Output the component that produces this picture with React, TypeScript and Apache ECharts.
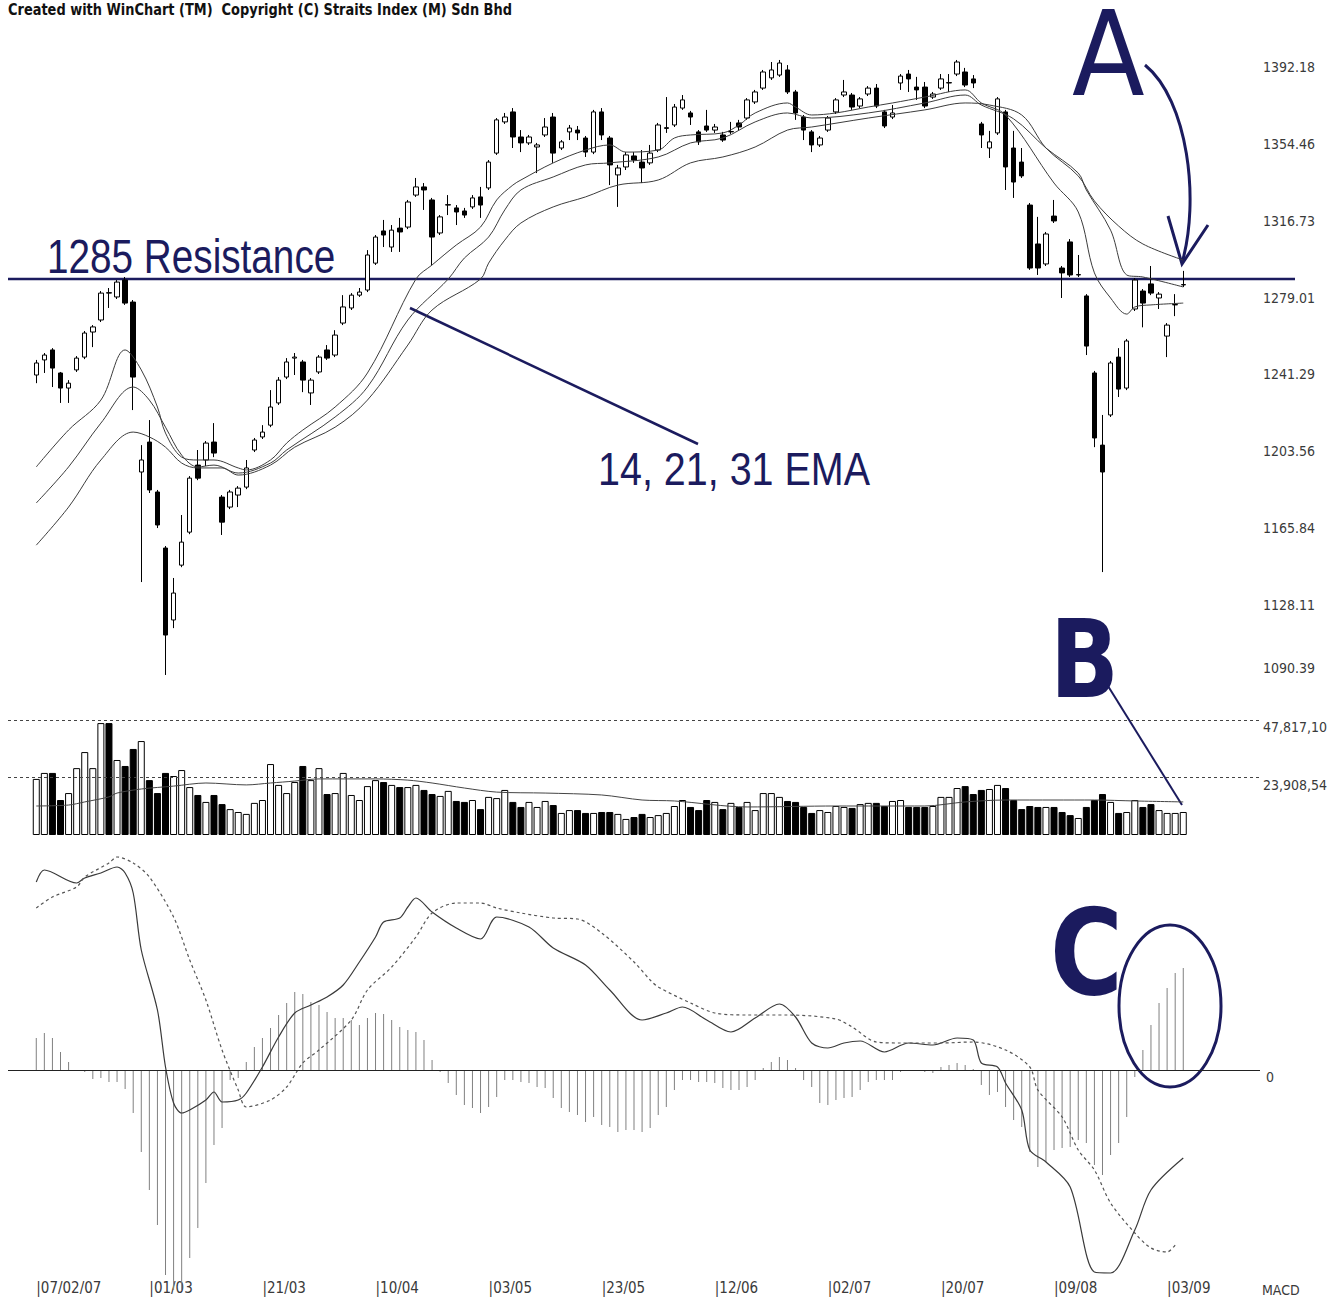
import React, { useEffect, useRef } from "react";
import * as echarts from "echarts";

const FONT = '"DejaVu Sans Condensed", "Liberation Sans Narrow", sans-serif';
const ARIAL = '"Liberation Sans", Arial, sans-serif';
const NAVY = "#1b1b5e";
const PAD = 3;
const NCAT = 155;
const LABEL_EVERY = 14;

const xTickLabels = ["07/02/07", "01/03", "21/03", "10/04", "03/05", "23/05", "12/06", "02/07", "20/07", "09/08", "03/09"];
const priceTicks = [1128.11, 1165.84, 1203.56, 1241.29, 1279.01, 1316.73, 1354.46, 1392.18];
const priceBottomTick = [1090.39];
const volumeTickValues = [23908.54, 47817.1];
const volumeTickLabels = ["23,908,54", "47,817,10"];
const macdTickValues = [0];

// [open, close, low, high]
const candles: number[][] = [
  [1237.6, 1243.5, 1233.6, 1245.0], [1245.0, 1247.4, 1238.6, 1248.4], [1249.9, 1241.0, 1231.7, 1250.8], [1238.6, 1231.2, 1223.9, 1239.1],
  [1231.2, 1233.6, 1223.9, 1235.1], [1240.1, 1245.9, 1239.1, 1246.9], [1246.4, 1258.2, 1245.4, 1259.2], [1258.7, 1261.2, 1251.3, 1262.1],
  [1264.6, 1277.8, 1263.6, 1278.8], [1278.0, 1277.8, 1270.5, 1280.3], [1275.9, 1283.2, 1274.9, 1284.2], [1284.2, 1272.9, 1272.0, 1285.7],
  [1273.4, 1236.6, 1220.4, 1274.4], [1190.0, 1195.9, 1136.0, 1203.2], [1204.7, 1181.2, 1179.7, 1215.5], [1180.2, 1164.0, 1162.5, 1181.2],
  [1152.7, 1110.0, 1090.4, 1153.7], [1117.4, 1130.6, 1113.4, 1138.0], [1144.3, 1155.6, 1143.3, 1168.9], [1160.5, 1187.0, 1159.5, 1188.0],
  [1193.4, 1187.0, 1186.0, 1200.8], [1195.9, 1204.2, 1192.9, 1205.2], [1204.7, 1199.3, 1197.3, 1214.0], [1177.7, 1165.4, 1159.1, 1178.7],
  [1172.8, 1180.2, 1171.8, 1181.2], [1178.7, 1182.1, 1172.8, 1183.1], [1182.6, 1192.0, 1181.6, 1195.9], [1200.8, 1205.7, 1199.8, 1206.7],
  [1207.2, 1209.6, 1206.2, 1213.0], [1213.0, 1221.9, 1212.0, 1230.2], [1223.9, 1235.1, 1222.9, 1236.6], [1236.6, 1244.0, 1235.6, 1245.9],
  [1245.9, 1246.4, 1237.6, 1248.4], [1244.0, 1235.1, 1229.2, 1245.0], [1228.8, 1235.1, 1222.9, 1236.1], [1239.1, 1246.4, 1238.1, 1247.4],
  [1249.9, 1245.9, 1245.0, 1252.3], [1247.4, 1257.2, 1246.4, 1259.6], [1263.1, 1271.0, 1262.1, 1276.8], [1270.5, 1276.8, 1269.5, 1277.8],
  [1276.8, 1278.3, 1275.9, 1280.3], [1279.3, 1296.5, 1278.3, 1298.9], [1292.5, 1305.3, 1291.6, 1306.3], [1308.3, 1306.3, 1300.4, 1313.7],
  [1300.4, 1308.7, 1298.0, 1311.2], [1309.7, 1307.8, 1298.0, 1314.7], [1310.2, 1322.5, 1309.2, 1323.5], [1325.9, 1329.9, 1325.0, 1334.3],
  [1329.9, 1328.4, 1318.6, 1331.8], [1323.5, 1305.3, 1291.6, 1324.5], [1307.3, 1315.2, 1306.3, 1316.1], [1321.0, 1321.2, 1316.1, 1325.9],
  [1319.6, 1317.6, 1311.2, 1321.0], [1318.1, 1316.1, 1314.7, 1319.6], [1320.1, 1324.5, 1319.1, 1325.9], [1325.0, 1321.0, 1314.7, 1329.9],
  [1329.4, 1342.1, 1328.4, 1343.1], [1346.5, 1362.8, 1345.6, 1363.7], [1361.8, 1364.2, 1360.8, 1366.2], [1366.7, 1354.4, 1349.0, 1368.6],
  [1354.4, 1351.5, 1347.0, 1357.8], [1351.5, 1354.4, 1350.5, 1355.4], [1349.5, 1350.5, 1336.7, 1351.5], [1355.4, 1359.3, 1354.4, 1363.7],
  [1364.2, 1346.5, 1341.7, 1366.2], [1349.0, 1352.0, 1348.0, 1352.9], [1356.9, 1358.8, 1352.9, 1360.3], [1357.8, 1356.4, 1352.9, 1359.8],
  [1353.9, 1347.0, 1344.6, 1354.9], [1347.0, 1366.7, 1346.0, 1367.7], [1366.7, 1355.4, 1352.9, 1368.6], [1353.9, 1340.7, 1330.8, 1354.9],
  [1335.8, 1339.2, 1320.1, 1340.7], [1339.7, 1345.6, 1338.2, 1347.0], [1345.1, 1343.1, 1341.7, 1347.0], [1342.1, 1339.2, 1331.8, 1348.0],
  [1341.7, 1346.5, 1340.7, 1350.5], [1348.0, 1360.3, 1347.0, 1361.3], [1358.6, 1359.0, 1356.4, 1374.0], [1360.3, 1369.1, 1359.3, 1370.6],
  [1368.6, 1372.6, 1367.7, 1375.0], [1366.2, 1364.2, 1360.3, 1367.2], [1356.9, 1352.0, 1350.5, 1357.8], [1359.8, 1357.8, 1356.9, 1367.7],
  [1357.8, 1359.3, 1356.4, 1360.8], [1355.4, 1352.9, 1352.0, 1356.9], [1356.9, 1357.1, 1355.9, 1361.8], [1361.3, 1359.3, 1357.8, 1362.8],
  [1363.7, 1372.6, 1362.8, 1373.5], [1371.6, 1376.5, 1370.6, 1377.5], [1378.4, 1386.3, 1377.5, 1387.3], [1383.4, 1387.3, 1382.4, 1391.2],
  [1384.8, 1390.7, 1383.9, 1392.2], [1387.3, 1376.5, 1375.5, 1389.7], [1376.5, 1366.2, 1362.8, 1377.5], [1364.2, 1357.8, 1352.9, 1365.2],
  [1356.9, 1350.5, 1347.0, 1357.8], [1350.5, 1353.9, 1349.5, 1354.9], [1357.8, 1363.7, 1356.9, 1364.7], [1366.7, 1372.6, 1365.7, 1373.5],
  [1375.0, 1376.5, 1374.0, 1382.4], [1375.0, 1369.1, 1367.7, 1376.0], [1369.6, 1373.1, 1368.6, 1374.0], [1375.5, 1378.4, 1374.5, 1379.4],
  [1378.4, 1369.6, 1368.6, 1380.4], [1366.7, 1359.8, 1358.8, 1367.7], [1364.2, 1366.2, 1363.2, 1370.1], [1380.9, 1384.3, 1377.5, 1385.3],
  [1385.3, 1382.9, 1376.5, 1387.3], [1378.9, 1377.5, 1372.6, 1383.9], [1378.9, 1369.6, 1368.6, 1381.4], [1374.0, 1375.5, 1373.1, 1376.5],
  [1378.4, 1382.9, 1377.5, 1385.3], [1380.9, 1381.1, 1376.5, 1385.3], [1385.3, 1391.2, 1384.3, 1392.2], [1386.3, 1379.9, 1378.9, 1388.3],
  [1382.9, 1380.9, 1378.4, 1384.8], [1360.8, 1355.4, 1349.0, 1361.8], [1349.0, 1352.0, 1344.1, 1357.4], [1356.4, 1373.1, 1355.4, 1374.0],
  [1366.7, 1339.7, 1328.4, 1367.7], [1349.0, 1332.3, 1324.5, 1357.4], [1342.1, 1335.3, 1334.3, 1349.0], [1321.0, 1290.1, 1289.2, 1322.0],
  [1301.9, 1290.1, 1286.7, 1315.2], [1292.1, 1306.8, 1291.1, 1307.8], [1315.6, 1313.2, 1312.2, 1323.5], [1290.1, 1287.7, 1275.4, 1291.1],
  [1302.9, 1286.7, 1285.7, 1304.3], [1286.7, 1286.9, 1285.7, 1296.5], [1276.4, 1251.8, 1247.4, 1277.3], [1238.6, 1206.7, 1202.2, 1239.6],
  [1203.2, 1190.0, 1140.9, 1218.0], [1218.0, 1243.5, 1217.0, 1244.5], [1246.4, 1230.7, 1226.8, 1250.8], [1231.2, 1254.3, 1230.2, 1255.3],
  [1270.0, 1284.2, 1269.0, 1285.2], [1278.8, 1272.9, 1261.0, 1279.8], [1282.3, 1277.8, 1276.8, 1291.1], [1275.4, 1277.3, 1270.0, 1278.3],
  [1256.7, 1262.1, 1246.4, 1263.1], [1272.0, 1272.2, 1266.5, 1277.3], [1281.8, 1282.0, 1280.8, 1288.7],
];

// [bar index, value]
const ema14: number[][] = [
  [0, 1192.5], [4, 1210.6], [8, 1225.3], [11, 1249.9], [13, 1240.1], [15, 1221.9], [16, 1209.1], [18, 1197.3], [20, 1195.9],
  [22, 1195.9], [25, 1192.0], [26, 1191.0], [29, 1195.9], [31, 1204.2], [33, 1210.6], [37, 1221.9], [41, 1238.6], [47, 1284.7],
  [49, 1291.6], [52, 1301.4], [55, 1310.2], [57, 1323.5], [59, 1330.8], [60, 1333.3], [64, 1341.7], [68, 1348.0], [71, 1350.5],
  [73, 1347.0], [77, 1348.0], [79, 1353.9], [81, 1355.4], [85, 1356.4], [87, 1360.3], [89, 1366.2], [93, 1371.1], [94, 1369.1],
  [96, 1365.2], [99, 1366.2], [103, 1369.1], [106, 1371.1], [110, 1374.0], [115, 1377.5], [117, 1371.1], [120, 1365.2],
  [126, 1331.8], [129, 1317.6], [131, 1287.7], [133, 1275.4], [135, 1267.5], [136, 1271.0], [138, 1272.0], [142, 1272.9],
];
const ema21: number[][] = [
  [0, 1174.8], [4, 1192.5], [8, 1214.0], [12, 1231.7], [14, 1225.3], [16, 1212.0], [18, 1198.3], [20, 1192.5], [22, 1193.4],
  [25, 1189.5], [29, 1194.4], [31, 1200.8], [37, 1217.0], [41, 1231.7], [46, 1264.6], [51, 1284.7], [53, 1295.0], [56, 1305.3],
  [58, 1318.6], [60, 1328.4], [64, 1334.8], [68, 1340.7], [71, 1341.7], [77, 1344.6], [81, 1351.5], [85, 1353.9], [89, 1361.8],
  [93, 1366.2], [96, 1363.7], [103, 1366.2], [110, 1371.1], [115, 1375.0], [117, 1370.1], [121, 1363.3], [125, 1349.0],
  [129, 1336.7], [130, 1328.4], [133, 1308.7], [135, 1286.7], [137, 1285.7], [142, 1280.8],
];
const ema31: number[][] = [
  [0, 1154.1], [4, 1172.8], [8, 1195.9], [12, 1209.6], [14, 1207.2], [16, 1202.2], [18, 1194.4], [20, 1192.0], [23, 1192.0],
  [25, 1188.5], [29, 1193.4], [32, 1202.2], [37, 1212.0], [41, 1225.3], [46, 1252.3], [49, 1269.5], [55, 1284.7], [56, 1292.5],
  [58, 1303.8], [60, 1312.2], [64, 1320.1], [68, 1325.0], [72, 1330.8], [77, 1333.3], [81, 1341.7], [85, 1344.6], [89, 1349.5],
  [93, 1357.8], [96, 1359.3], [103, 1363.7], [110, 1367.7], [115, 1371.1], [118, 1370.1], [122, 1365.2], [125, 1349.0],
  [129, 1335.3], [131, 1323.0], [134, 1310.7], [137, 1301.9], [142, 1294.0],
];

const volume: number[] = [
  23400, 25900, 25900, 14600, 17500, 27900, 34600, 27900, 46700, 46700,
  31300, 28800, 35900, 39200, 22900, 17500, 25900, 24600, 27100, 20000,
  16700, 13800, 16700, 12900, 10800, 9600, 8800, 13400, 14600, 29600,
  20900, 17500, 22100, 28800, 22900, 27900, 17100, 17500, 25900, 16700,
  14600, 20400, 22900, 22100, 20900, 20000, 20000, 20900, 18800, 17100,
  16300, 18400, 14200, 13800, 14600, 10800, 15900, 15400, 18800, 13800,
  11700, 13800, 11700, 14200, 12500, 9200, 10400, 10400, 9200, 9200,
  9600, 9600, 8800, 6700, 7500, 8800, 7500, 8300, 9200, 12100,
  14600, 11700, 10400, 14600, 13800, 10800, 13400, 11700, 13800, 10400,
  17500, 17500, 15900, 14200, 13800, 11700, 9200, 10400, 9600, 12100,
  11700, 11300, 12900, 13400, 13400, 12100, 14200, 14600, 11700, 11700,
  11700, 12100, 15900, 15900, 19600, 20400, 17100, 18800, 19200, 20900,
  19600, 14600, 10800, 12100, 11700, 11700, 11700, 9600, 8300, 7100,
  11700, 14600, 17100, 13800, 9200, 9600, 14600, 11700, 12900, 10400,
  9200, 9200, 9600,
];
const volumeAvg: number[][] = [
  [0, 12100], [4, 12500], [6, 13800], [9, 15900], [10, 17500], [13, 19200], [17, 20400], [21, 21700], [26, 20900], [29, 21700],
  [32, 22500], [35, 23400], [42, 23400], [46, 22900], [49, 21700], [53, 19600], [57, 17900], [63, 17500], [70, 16700], [75, 14600],
  [79, 14200], [88, 11700], [99, 12100], [110, 12100], [115, 13800], [120, 14600], [126, 14600], [131, 14600], [136, 14200], [142, 13800],
];

const macdLine: number[][] = [
  [0, 18.8], [1, 20.0], [5, 18.7], [6, 19.2], [8, 19.7], [10, 20.3], [11, 19.7], [12, 17.7], [13, 12.0], [15, 6.0], [16, 0.3],
  [17, -3.3], [18, -4.3], [19, -4.0], [21, -3.0], [22, -2.2], [23, -3.2], [25, -3.0], [26, -2.3], [28, 0.3], [30, 3.3], [32, 5.7],
  [34, 6.5], [36, 7.3], [38, 8.5], [40, 10.8], [42, 13.3], [43, 14.8], [45, 15.2], [46, 16.3], [47, 17.2], [49, 15.8], [52, 14.2],
  [55, 13.1], [57, 15.3], [61, 14.3], [64, 12.2], [68, 10.5], [71, 8.0], [75, 5.0], [78, 5.7], [80, 6.3], [83, 5.0], [86, 3.8],
  [89, 5.2], [92, 6.6], [94, 5.3], [96, 2.7], [98, 2.2], [100, 2.7], [102, 2.9], [105, 1.8], [108, 2.7], [111, 2.5], [114, 3.2],
  [116, 3.0], [117, 0.7], [119, 0.3], [120, -1.3], [122, -4.0], [123, -8.0], [125, -9.2], [128, -11.7], [131, -20.2], [133, -20.3],
  [136, -16.0], [138, -12.0], [142, -8.8],
];
const signalLine: number[][] = [
  [0, 16.2], [2, 17.3], [5, 18.3], [6, 19.3], [9, 20.7], [10, 21.3], [12, 20.7], [14, 19.3], [17, 15.3], [19, 11.0], [21, 7.0],
  [23, 2.0], [25, -2.0], [26, -3.7], [29, -3.0], [31, -1.7], [33, 0.7], [35, 2.0], [39, 5.0], [41, 8.0], [44, 10.3], [47, 13.3],
  [49, 15.7], [52, 16.7], [55, 16.7], [57, 16.2], [60, 15.7], [64, 15.2], [67, 15.1], [70, 13.7], [74, 10.8], [76, 9.0], [77, 8.3],
  [81, 6.7], [84, 5.7], [88, 5.5], [93, 5.5], [99, 5.1], [101, 4.3], [104, 2.8], [107, 2.7], [112, 2.7], [116, 2.8], [120, 2.0],
  [123, 0.3], [124, -2.0], [127, -4.7], [129, -8.0], [131, -10.0], [133, -13.3], [136, -16.3], [138, -17.8], [140, -18.2], [141, -17.5],
];
const macdHist: number[] = [
  3.2, 3.7, 3.2, 1.8, 0.8, -0.1, -0.2, -0.9, -0.8, -1.2,
  -1.2, -1.9, -4.3, -8.2, -12.0, -15.5, -20.5, -22.0, -22.0, -18.8,
  -15.8, -11.3, -7.5, -5.8, -1.0, -0.8, 0.8, 2.3, 3.2, 4.2,
  5.5, 6.7, 7.8, 7.6, 6.8, 6.5, 5.8, 5.2, 5.2, 5.0,
  4.5, 5.2, 5.7, 5.6, 5.0, 4.3, 4.0, 3.8, 3.0, 1.0,
  -0.2, -1.3, -2.5, -3.5, -3.8, -4.3, -3.7, -2.7, -1.0, -1.0,
  -1.2, -1.3, -1.7, -1.8, -2.8, -3.8, -4.2, -4.5, -5.2, -4.7,
  -5.5, -5.7, -6.2, -6.0, -6.0, -6.2, -5.8, -4.5, -3.7, -2.0,
  -1.0, -1.0, -1.2, -1.2, -1.3, -1.8, -2.0, -2.0, -1.7, -1.0,
  0.2, 0.8, 1.3, 1.0, 0.2, -1.0, -1.7, -3.3, -3.5, -3.0,
  -2.8, -2.7, -2.0, -1.2, -1.0, -1.0, -1.0, -0.2, -0.1, 0,
  -0.2, -0.3, 0.3, 0.5, 0.7, 0.5, 0.1, -1.5, -2.5, -2.2,
  -3.7, -5.0, -5.7, -8.2, -9.7, -9.2, -8.0, -7.8, -7.7, -7.0,
  -7.3, -9.5, -10.5, -8.5, -7.3, -4.7, -0.7, 2.0, 4.5, 6.7,
  8.2, 9.7, 10.2,
];

function buildOption() {
  const nBars = candles.length;
  const categories: string[] = [];
  for (let k = 0; k < NCAT; k++) {
    const i = k - PAD;
    if (i >= 0 && i < nBars && i % LABEL_EVERY === 0 && xTickLabels[i / LABEL_EVERY]) {
      categories.push("|" + xTickLabels[i / LABEL_EVERY]);
    } else {
      categories.push("c" + k);
    }
  }
  const padArr = (arr: any[]) => {
    const out: any[] = [];
    for (let k = 0; k < NCAT; k++) {
      const i = k - PAD;
      out.push(i >= 0 && i < arr.length ? arr[i] : "-");
    }
    return out;
  };
  const shift = (pairs: number[][]) => pairs.map(([i, v]) => [i + PAD, v]);

  const candleData = padArr(candles);
  const volData = padArr(
    volume.map((v, i) => ({
      value: v,
      itemStyle: { color: candles[i][1] >= candles[i][0] ? "#ffffff" : "#000000" },
    }))
  );
  const histData = padArr(macdHist);

  const yLabelStyle = { fontFamily: FONT, fontSize: 14, color: "#3a3a3a" };
  const baseX = (gridIndex: number, showLabels: boolean) => ({
    type: "category",
    gridIndex,
    data: categories,
    boundaryGap: true,
    axisLine: { show: false },
    axisTick: { show: false },
    splitLine: { show: false },
    axisPointer: { show: false },
    axisLabel: showLabels
      ? {
          show: true,
          inside: true,
          margin: 3,
          align: "left",
          interval: (_idx: number, val: string) => val.charAt(0) === "|",
          formatter: (val: string) => val,
          fontFamily: FONT,
          fontSize: 15,
          color: "#3a3a3a",
        }
      : { show: false },
  });
  const emaLine = (data: number[][]) => ({
    type: "line",
    xAxisIndex: 0,
    yAxisIndex: 0,
    data: shift(data),
    symbol: "none",
    smooth: 0.35,
    silent: true,
    lineStyle: { color: "#3c3c3c", width: 1 },
  });

  const graphic: any[] = [
    {
      type: "text",
      x: 8,
      y: 10,
      scaleX: 0.9,
      style: { text: "Created with WinChart (TM)  Copyright (C) Straits Index (M) Sdn Bhd", fontFamily: FONT, fontWeight: "bold", fontSize: 16, fill: "#111", verticalAlign: "middle" },
    },
    { type: "line", shape: { x1: 8, y1: 279, x2: 1295, y2: 279 }, style: { stroke: NAVY, lineWidth: 2.5 } },
    { type: "text", x: 47, y: 256, scaleX: 0.79, style: { text: "1285 Resistance", fontFamily: ARIAL, fontSize: 49, fill: NAVY, verticalAlign: "middle" } },
    { type: "line", shape: { x1: 410, y1: 308, x2: 698, y2: 444 }, style: { stroke: NAVY, lineWidth: 2.5 } },
    { type: "text", x: 598, y: 469, scaleX: 0.84, style: { text: "14, 21, 31 EMA", fontFamily: ARIAL, fontSize: 47, fill: NAVY, verticalAlign: "middle" } },
    { type: "text", x: 1072, y: 54, style: { text: "A", fontFamily: FONT, fontSize: 118, lineHeight: 90, fill: NAVY, verticalAlign: "middle" } },
    {
      type: "bezierCurve",
      shape: { x1: 1145, y1: 65, cpx1: 1188, cpy1: 100, cpx2: 1200, cpy2: 200, x2: 1182, y2: 263 },
      style: { stroke: NAVY, lineWidth: 3, fill: null },
    },
    { type: "polyline", shape: { points: [[1168, 216], [1182, 264], [1208, 225]] }, style: { stroke: NAVY, lineWidth: 3, fill: null } },
    { type: "text", x: 1050, y: 660, scaleX: 0.93, style: { text: "B", fontFamily: FONT, fontWeight: "bold", fontSize: 108, lineHeight: 90, fill: NAVY, verticalAlign: "middle" } },
    { type: "line", shape: { x1: 1108, y1: 686, x2: 1182, y2: 805 }, style: { stroke: NAVY, lineWidth: 2 } },
    { type: "text", x: 1050, y: 952, scaleX: 0.92, style: { text: "C", fontFamily: FONT, fontWeight: "bold", fontSize: 120, lineHeight: 100, fill: NAVY, verticalAlign: "middle" } },
    { type: "ellipse", shape: { cx: 1170, cy: 1006, rx: 51, ry: 81 }, style: { stroke: NAVY, lineWidth: 3, fill: null } },
    { type: "text", x: 1262, y: 1290, style: { text: "MACD", fontFamily: FONT, fontSize: 14, fill: "#3a3a3a", verticalAlign: "middle" } },
  ];

  return {
    animation: false,
    backgroundColor: "#ffffff",
    grid: [
      { left: 8, right: 76, top: 40, height: 635 },
      { left: 8, right: 76, top: 706, height: 129 },
      { left: 8, right: 76, top: 850, height: 448 },
    ],
    xAxis: [baseX(0, false), baseX(1, false), baseX(2, true)],
    yAxis: [
      {
        type: "value", gridIndex: 0, position: "right", min: 1090.39, max: 1402.0, scale: true,
        axisLine: { show: false }, axisTick: { show: false }, splitLine: { show: false },
        axisLabel: { customValues: priceTicks, verticalAlign: "top", margin: 3, formatter: (v: number) => v.toFixed(2), ...yLabelStyle },
      },
      {
        type: "value", gridIndex: 0, position: "right", min: 1090.39, max: 1402.0, scale: true,
        axisLine: { show: false }, axisTick: { show: false }, splitLine: { show: false },
        axisLabel: { customValues: priceBottomTick, verticalAlign: "bottom", margin: 3, formatter: (v: number) => v.toFixed(2), ...yLabelStyle },
      },
      {
        type: "value", gridIndex: 1, position: "right", min: 0, max: 53826,
        axisLine: { show: false }, axisTick: { show: false }, splitLine: { show: false },
        axisLabel: {
          customValues: volumeTickValues, verticalAlign: "top", margin: 3,
          formatter: (v: number) => {
            const idx = volumeTickValues.findIndex((t) => Math.abs(t - v) < 0.01);
            return idx >= 0 ? volumeTickLabels[idx] : "";
          },
          ...yLabelStyle,
        },
      },
      {
        type: "value", gridIndex: 2, position: "right", min: -22.8, max: 22.0,
        axisLine: { show: false }, axisTick: { show: false }, splitLine: { show: false },
        axisLabel: { customValues: macdTickValues, verticalAlign: "top", margin: 6, formatter: (v: number) => String(v), ...yLabelStyle },
      },
    ],
    series: [
      {
        type: "candlestick",
        xAxisIndex: 0,
        yAxisIndex: 0,
        data: candleData,
        barWidth: 5,
        silent: true,
        itemStyle: { color: "#ffffff", color0: "#000000", borderColor: "#000000", borderColor0: "#000000", borderWidth: 1 },
      },
      emaLine(ema14),
      emaLine(ema21),
      emaLine(ema31),
      {
        type: "bar",
        xAxisIndex: 1,
        yAxisIndex: 2,
        data: volData,
        barWidth: 7,
        silent: true,
        itemStyle: { borderColor: "#000000", borderWidth: 1 },
        markLine: {
          silent: true,
          symbol: ["none", "none"],
          label: { show: false },
          lineStyle: { type: [3, 3], color: "#444", width: 1 },
          data: volumeTickValues.map((v) => ({ yAxis: v })),
        },
      },
      {
        type: "line",
        xAxisIndex: 1,
        yAxisIndex: 2,
        data: shift(volumeAvg),
        symbol: "none",
        smooth: 0.3,
        silent: true,
        lineStyle: { color: "#444", width: 1 },
      },
      {
        type: "bar",
        xAxisIndex: 2,
        yAxisIndex: 3,
        data: histData,
        barWidth: 1,
        silent: true,
        itemStyle: { color: "#808080" },
        markLine: {
          silent: true,
          symbol: ["none", "none"],
          label: { show: false },
          lineStyle: { type: "solid", color: "#222", width: 1.2 },
          data: [{ yAxis: 0 }],
        },
      },
      {
        type: "line",
        xAxisIndex: 2,
        yAxisIndex: 3,
        data: shift(macdLine),
        symbol: "none",
        smooth: 0.3,
        silent: true,
        lineStyle: { color: "#3a3a3a", width: 1.2 },
      },
      {
        type: "line",
        xAxisIndex: 2,
        yAxisIndex: 3,
        data: shift(signalLine),
        symbol: "none",
        smooth: 0.3,
        silent: true,
        lineStyle: { color: "#555", width: 1.2, type: [3, 3] },
      },
    ],
    graphic,
  };
}

export default function App() {
  const ref = useRef<HTMLDivElement>(null);
  useEffect(() => {
    if (!ref.current) return;
    const chart = echarts.init(ref.current, null, { renderer: "svg" });
    chart.setOption(buildOption() as any);
    return () => chart.dispose();
  }, []);
  return (
    <div
      ref={ref}
      style={{ position: "absolute", left: 0, top: 0, width: 1336, height: 1299, background: "#ffffff" }}
    />
  );
}
